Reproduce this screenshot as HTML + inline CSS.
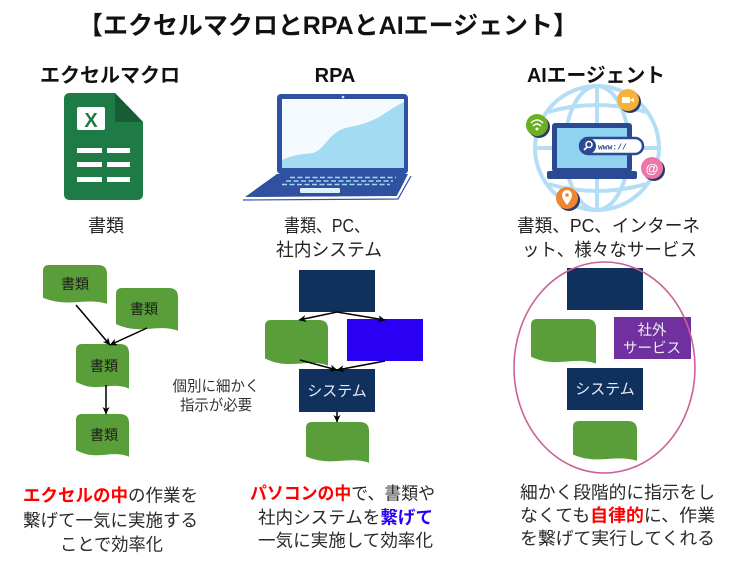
<!DOCTYPE html>
<html>
<head>
<meta charset="utf-8">
<style>
  html,body{margin:0;padding:0;background:#fff;}
  body{width:749px;height:576px;overflow:hidden;}
  svg{display:block;}
  text{font-family:"Liberation Sans","Noto Sans CJK JP",sans-serif;}
</style>
</head>
<body>
<svg width="749" height="576" viewBox="0 0 749 576" xmlns="http://www.w3.org/2000/svg">
  <defs>
    <marker id="ah" markerWidth="8" markerHeight="8" refX="7" refY="4" orient="auto" markerUnits="userSpaceOnUse">
      <path d="M0,0.5 L7.5,4 L0,7.5 L2,4 Z" fill="#000"/>
    </marker>
  </defs>
  <rect width="749" height="576" fill="#fff"/>

  <!-- Title -->
  <text x="328" y="34" font-size="25" font-weight="bold" text-anchor="middle" fill="#111" textLength="500" lengthAdjust="spacingAndGlyphs">【エクセルマクロとRPAとAIエージェント】</text>

  <!-- Headers -->
  <text x="110" y="82" font-size="20" font-weight="bold" text-anchor="middle" fill="#111" textLength="140" lengthAdjust="spacingAndGlyphs">エクセルマクロ</text>
  <text x="335" y="82" font-size="20" font-weight="bold" text-anchor="middle" fill="#111">RPA</text>
  <text x="596" y="82" font-size="20" font-weight="bold" text-anchor="middle" fill="#111" textLength="138" lengthAdjust="spacingAndGlyphs">AIエージェント</text>

  <!-- Excel icon -->
  <path d="M70,93 L115,93 L143,122 L143,194 Q143,200 137,200 L70,200 Q64,200 64,194 L64,99 Q64,93 70,93 Z" fill="#1f7b45"/>
  <path d="M115,93 L143,122 L115,122 Z" fill="#185c37"/>
  <rect x="77" y="107" width="28" height="23" rx="2" fill="#fff"/>
  <text x="91" y="127" font-size="20" font-weight="bold" text-anchor="middle" fill="#1f7b45" style="font-family:'Liberation Sans',sans-serif">X</text>
  <rect x="77" y="148" width="25" height="5" fill="#fff"/>
  <rect x="107" y="148" width="23" height="5" fill="#fff"/>
  <rect x="77" y="162" width="25" height="5" fill="#fff"/>
  <rect x="107" y="162" width="23" height="5" fill="#fff"/>
  <rect x="77" y="177" width="25" height="5" fill="#fff"/>
  <rect x="107" y="177" width="23" height="5" fill="#fff"/>

  <!-- Laptop (RPA) -->
  <rect x="277" y="94" width="131" height="80" rx="4" fill="#2f51a3"/>
  <rect x="282" y="99" width="122" height="69" fill="#f4fafd"/>
  <path d="M282,160 C295,154 305,154 313,153 C322,150 327,140 333,135 C340,129 345,128 350,127 C360,125 366,123 373,120 C380,117 385,113 390,110 C396,106 400,104 404,102 L404,168 L282,168 Z" fill="#a3dbf2"/>
  <circle cx="343" cy="97" r="1.3" fill="#cfe9f8"/>
  <path d="M277,174 L408,174 L397,196 L245,197 Z" fill="#3050a0"/>
  <path d="M244,198 L397,197 L409,175" fill="none" stroke="#fff" stroke-width="1.5"/>
  <path d="M243,200 L398,199 L411,176" fill="none" stroke="#3050a0" stroke-width="1.2"/>
  <g stroke="#a3dbf2" stroke-width="1.6" stroke-dasharray="5 2.5">
    <line x1="290" y1="177.5" x2="396" y2="177.5"/>
    <line x1="286" y1="181" x2="393" y2="181"/>
    <line x1="282" y1="184.5" x2="390" y2="184.5"/>
  </g>
  <rect x="300" y="188" width="40" height="5" rx="1" fill="#dff2fb"/>

  <!-- Globe (AI agent) -->
  <g fill="none" stroke="#b3def5" stroke-width="4">
    <circle cx="597" cy="148" r="62"/>
    <ellipse cx="597" cy="148" rx="32" ry="62"/>
    <line x1="597" y1="86" x2="597" y2="210"/>
    <line x1="535" y1="148" x2="659" y2="148"/>
    <path d="M548,112 Q597,98 646,112"/>
    <path d="M548,184 Q597,198 646,184"/>
  </g>
  <rect x="552" y="123" width="80" height="49" rx="3" fill="#2b4a94"/>
  <rect x="557" y="128" width="70" height="40" fill="#8fd3f1"/>
  <rect x="547" y="171" width="90" height="8" rx="2" fill="#2b4a94"/>
  <rect x="580" y="138" width="63" height="16" rx="8" fill="#fff" stroke="#2b4a94" stroke-width="2.5"/>
  <circle cx="588" cy="146" r="8" fill="#2b4a94"/>
  <circle cx="589" cy="144.5" r="3" fill="none" stroke="#fff" stroke-width="1.5"/>
  <line x1="587" y1="147" x2="584" y2="150" stroke="#fff" stroke-width="1.8"/>
  <text x="598" y="149.5" font-size="8" font-weight="bold" fill="#2b4a94" style="font-family:'Liberation Mono',monospace">www://</text>
  <!-- app bubbles -->
  <circle cx="539" cy="127" r="11" fill="#2b3a6a"/>
  <circle cx="537" cy="125" r="11" fill="#6ab023"/>
  <path d="M531,123 Q537,117 543,123 M533,126 Q537,122 541,126" fill="none" stroke="#fff" stroke-width="1.5"/>
  <circle cx="537" cy="129" r="1.5" fill="#fff"/>
  <circle cx="630" cy="102" r="11" fill="#2b3a6a"/>
  <circle cx="628" cy="100" r="11" fill="#f6b13a"/>
  <rect x="622" y="97" width="8" height="6" rx="1" fill="#fff"/>
  <path d="M630,100 L634,97.5 L634,102.5 Z" fill="#fff"/>
  <circle cx="654" cy="170" r="11" fill="#2b3a6a"/>
  <circle cx="652" cy="168" r="11" fill="#ee76a9"/>
  <text x="652" y="173" font-size="13" font-weight="bold" text-anchor="middle" fill="#fff" style="font-family:'Liberation Sans',sans-serif">@</text>
  <circle cx="569" cy="200" r="11" fill="#2b3a6a"/>
  <circle cx="567" cy="198" r="11" fill="#f08431"/>
  <path d="M567,205 C563,200 562,197 562,195 A5,5 0 0 1 572,195 C572,197 571,200 567,205 Z" fill="#fff"/>
  <circle cx="567" cy="195" r="1.8" fill="#f08431"/>

  <!-- Labels under icons -->
  <text x="106" y="232" font-size="18" text-anchor="middle" fill="#222">書類</text>
  <text x="327" y="232" font-size="18" text-anchor="middle" fill="#222" textLength="86" lengthAdjust="spacingAndGlyphs">書類、PC、</text>
  <text x="329" y="256" font-size="18" text-anchor="middle" fill="#222" textLength="106" lengthAdjust="spacingAndGlyphs">社内システム</text>
  <text x="608.5" y="232" font-size="18" text-anchor="middle" fill="#222" textLength="183" lengthAdjust="spacingAndGlyphs">書類、PC、インターネ</text>
  <text x="609.5" y="256" font-size="18" text-anchor="middle" fill="#222" textLength="175" lengthAdjust="spacingAndGlyphs">ット、様々なサービス</text>

  <!-- Column 1 flow -->
  <g fill="#5a9e39">
    <path d="M43,271 Q43,265 49,265 L98,265 Q107,265 107,274 L107,303.8 C84.6,297 68.6,308.2 43,297.8 Z"/>
    <path d="M116,294 Q116,288 122,288 L169,288 Q178,288 178,297 L178,330.7 C156.3,323.2 140.8,335.5 116,324.1 Z"/>
    <path d="M76,350 Q76,344 82,344 L120,344 Q129,344 129,353 L129,388.6 C110.5,380.8 97.2,393.7 76,381.7 Z"/>
    <path d="M76,420 Q76,414 82,414 L120,414 Q129,414 129,423 L129,456.7 C110.5,449.2 97.2,461.5 76,450.1 Z"/>
  </g>
  <g font-size="14" fill="#1a1a1a" text-anchor="middle">
    <text x="75" y="289">書類</text>
    <text x="144" y="314">書類</text>
    <text x="104" y="371">書類</text>
    <text x="104" y="440">書類</text>
  </g>
  <g stroke="#000" stroke-width="1.5" fill="none" marker-end="url(#ah)">
    <line x1="76" y1="305" x2="110" y2="345"/>
    <line x1="147" y1="328" x2="110" y2="345"/>
    <line x1="106" y1="385" x2="106" y2="414"/>
  </g>

  <!-- Column 2 flow -->
  <rect x="299" y="270" width="76" height="42" fill="#10305e"/>
  <path d="M265,326 Q265,320 271,320 L319,320 Q328,320 328,329 L328,365.6 C306,357.6 290.2,370.8 265,358.5 Z" fill="#5a9e39"/>
  <rect x="347" y="319" width="76" height="42" fill="#2a00f5"/>
  <rect x="299" y="369" width="76" height="43" fill="#10305e"/>
  <text x="337" y="396" font-size="15" text-anchor="middle" fill="#e8ecf5">システム</text>
  <path d="M306,428 Q306,422 312,422 L360,422 Q369,422 369,431 L369,462.7 C347,455.6 331.2,467.4 306,456.4 Z" fill="#5a9e39"/>
  <g stroke="#000" stroke-width="1.5" fill="none" marker-end="url(#ah)">
    <line x1="337" y1="312" x2="299" y2="320"/>
    <line x1="337" y1="312" x2="385" y2="320"/>
    <line x1="300" y1="360" x2="337" y2="370"/>
    <line x1="385" y1="361" x2="337" y2="370"/>
    <line x1="337" y1="412" x2="337" y2="422"/>
  </g>
  <text x="216" y="391" font-size="15" text-anchor="middle" fill="#333" textLength="87" lengthAdjust="spacingAndGlyphs">個別に細かく</text>
  <text x="216" y="410" font-size="15" text-anchor="middle" fill="#333" textLength="72" lengthAdjust="spacingAndGlyphs">指示が必要</text>

  <!-- Column 3 flow -->
  <rect x="567" y="268" width="76" height="42" fill="#10305e"/>
  <path d="M531,325 Q531,319 537,319 L587,319 Q596,319 596,328 L596,363.6 C573.3,355.8 557,368.7 531,356.7 Z" fill="#5a9e39"/>
  <rect x="614" y="317" width="77" height="42" fill="#7030a0"/>
  <text x="652" y="335" font-size="14.5" text-anchor="middle" fill="#eee">社外</text>
  <text x="652" y="353" font-size="14.5" text-anchor="middle" fill="#eee">サービス</text>
  <rect x="567" y="368" width="76" height="42" fill="#10305e"/>
  <text x="605" y="394" font-size="15" text-anchor="middle" fill="#e8ecf5">システム</text>
  <path d="M573,427 Q573,421 579,421 L628,421 Q637,421 637,430 L637,460.8 C614.6,453.8 598.6,465.3 573,454.6 Z" fill="#5a9e39"/>
  <ellipse cx="604.5" cy="367.5" rx="90.5" ry="105.5" fill="none" stroke="#cc5f9a" stroke-width="1.6"/>

  <!-- Bottom descriptions -->
  <g font-size="17.5" fill="#2a2a2a" text-anchor="middle">
    <text x="110.5" y="501.5" textLength="175" lengthAdjust="spacingAndGlyphs"><tspan fill="#ff0000" font-weight="bold">エクセルの中</tspan>の作業を</text>
    <text x="110.5" y="526.5" textLength="175" lengthAdjust="spacingAndGlyphs">繋げて一気に実施する</text>
    <text x="111.5" y="550.5" textLength="103" lengthAdjust="spacingAndGlyphs">ことで効率化</text>

    <text x="342.5" y="499.5" textLength="185" lengthAdjust="spacingAndGlyphs"><tspan fill="#ff0000" font-weight="bold">パソコンの中</tspan>で、書類や</text>
    <text x="345.5" y="523.5" textLength="175" lengthAdjust="spacingAndGlyphs">社内システムを<tspan fill="#2a00f5" font-weight="bold">繋げて</tspan></text>
    <text x="345.5" y="546.5" textLength="175" lengthAdjust="spacingAndGlyphs">一気に実施して効率化</text>

    <text x="617.5" y="498.5" textLength="195" lengthAdjust="spacingAndGlyphs">細かく段階的に指示をし</text>
    <text x="617.5" y="521.5" textLength="195" lengthAdjust="spacingAndGlyphs">なくても<tspan fill="#ff0000" font-weight="bold">自律的</tspan>に、作業</text>
    <text x="617.5" y="544.5" textLength="195" lengthAdjust="spacingAndGlyphs">を繋げて実行してくれる</text>
  </g>
</svg>
</body>
</html>
